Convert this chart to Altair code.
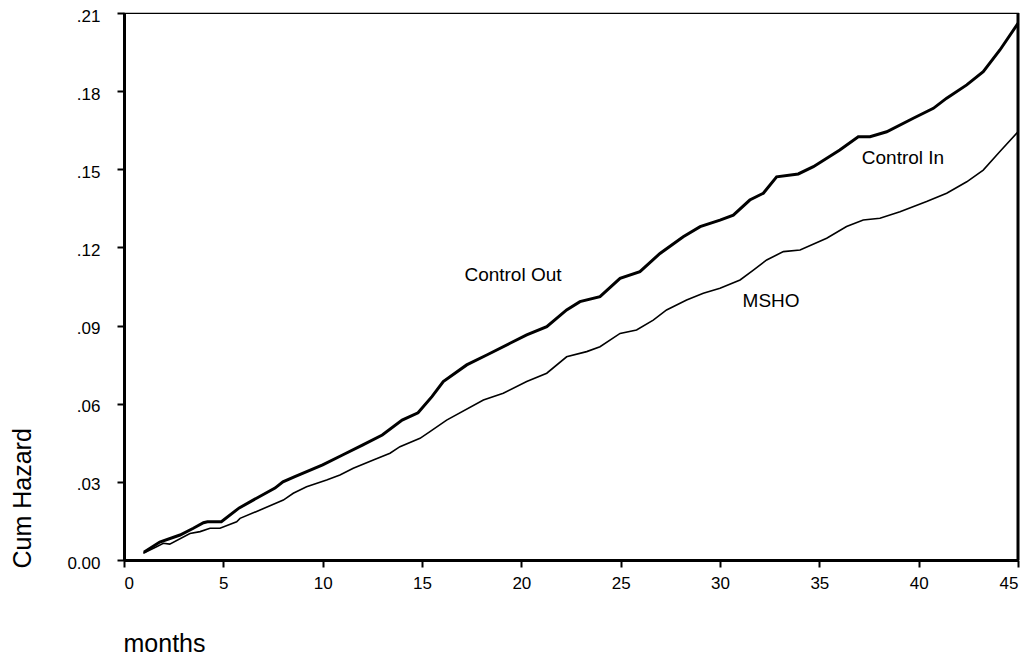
import altair as alt
import pandas as pd

# Control (thick line): months and cumulative hazard
control_month = [1.0, 1.8, 2.82, 3.49, 4.0, 4.2, 4.9, 5.8, 6.5, 7.6, 8.0, 8.6, 10.0, 11.0, 12.0, 13.0, 14.0,
                 14.8, 15.5, 16.07, 17.25, 18.26, 19.43, 20.27, 21.28, 22.28, 22.95, 23.96, 24.97, 25.97,
                 26.98, 28.15, 29.0, 30.0, 30.67, 31.5, 32.18, 32.85, 33.94, 34.7, 36.03, 36.96, 37.55,
                 38.39, 39.73, 40.74, 41.41, 42.42, 43.25, 44.09, 45.0]
control_haz = [0.003, 0.0069, 0.0096, 0.0122, 0.0143, 0.0147, 0.0147, 0.020, 0.023, 0.0276, 0.030, 0.032,
               0.0365, 0.0403, 0.0441, 0.048, 0.0537, 0.0565, 0.0627, 0.0685, 0.0749, 0.0787, 0.0832,
               0.0864, 0.0896, 0.096, 0.0992, 0.1011, 0.1081, 0.1107, 0.1177, 0.1241, 0.128, 0.1305,
               0.1324, 0.1382, 0.1408, 0.1471, 0.1482, 0.151, 0.1574, 0.1625, 0.1625, 0.1644, 0.1696,
               0.1734, 0.1773, 0.1824, 0.1875, 0.1958, 0.206]

# MSHO (thin line)
msho_month = [0.97, 1.64, 1.98, 2.3, 3.32, 3.83, 4.33, 4.83, 5.67, 5.84, 6.85, 8.02, 8.52, 9.19, 10.2,
              10.87, 11.54, 12.55, 13.39, 13.89, 14.9, 15.4, 16.24, 18.09, 19.09, 20.27, 21.28, 22.28,
              23.29, 23.96, 24.97, 25.8, 26.64, 27.31, 28.32, 29.16, 30.0, 31.01, 31.68, 32.35, 33.19,
              34.03, 35.37, 36.37, 37.21, 38.05, 39.06, 40.4, 41.41, 42.42, 43.25, 44.09, 45.0]
msho_haz = [0.0026, 0.0051, 0.0064, 0.0061, 0.0102, 0.0109, 0.0122, 0.0122, 0.0147, 0.016, 0.0192,
            0.023, 0.0256, 0.0281, 0.0307, 0.0326, 0.0352, 0.0384, 0.041, 0.0435, 0.0467, 0.0493,
            0.0537, 0.0614, 0.064, 0.0685, 0.0717, 0.078, 0.080, 0.0819, 0.087, 0.0883, 0.0921, 0.096,
            0.0998, 0.1024, 0.1043, 0.1075, 0.1113, 0.1152, 0.1184, 0.1190, 0.1235, 0.128, 0.1305,
            0.1312, 0.1337, 0.1376, 0.1408, 0.1452, 0.1497, 0.1568, 0.1644]

label_text = ["Control Out", "MSHO", "Control In"]
label_x = [19.58, 32.57, 39.21]
label_y = [0.1094, 0.0994, 0.1545]

x_ticks = [0, 5, 10, 15, 20, 25, 30, 35, 40, 45]
y_ticks = [0.0, 0.03, 0.06, 0.09, 0.12, 0.15, 0.18, 0.21]

FONT = "Liberation Sans"

df = pd.concat([
    pd.DataFrame({"month": control_month, "haz": control_haz, "series": "Control"}),
    pd.DataFrame({"month": msho_month, "haz": msho_haz, "series": "MSHO"}),
])
labels = pd.DataFrame({"text": label_text, "month": label_x, "haz": label_y})
edge = pd.DataFrame({"month": [45.0, 45.0], "haz": [0.0, 0.21]})

xscale = alt.Scale(domain=[0, 45], nice=False, zero=False)
yscale = alt.Scale(domain=[0, 0.21], nice=False, zero=False)

axis_style = dict(
    domain=True, domainColor="black", domainWidth=3, domainOpacity=1,
    ticks=True, tickColor="black", tickWidth=2, tickSize=7, tickOpacity=1,
    labelColor="black", titleColor="black", labelFont=FONT, titleFont=FONT,
    grid=False,
)

x_enc = alt.X("month:Q", scale=xscale, axis=alt.Axis(
    values=x_ticks, title="months", titleAnchor="start", titleAlign="left",
    titleX=-1, titleY=91, titleBaseline="alphabetic",
    titleFontSize=25, titleFontWeight="normal", labelFontSize=17,
    labelPadding=8, **axis_style))
y_enc = alt.Y("haz:Q", scale=yscale, axis=alt.Axis(
    values=y_ticks, title="Cum Hazard", titleAngle=-90, titleAlign="left",
    titleAnchor="start", titleX=-94, titleY=555, titleBaseline="alphabetic",
    titleFontSize=25, titleFontWeight="normal", labelFontSize=17, labelPadding=17,
    labelOffset=3,
    labelExpr="datum.value == 0 ? '0.00' : replace(format(datum.value, '.2f'), '0.', '.')",
    **axis_style))

lines = alt.Chart(df).mark_line(color="black").encode(
    x=x_enc, y=y_enc,
    detail="series:N",
    strokeWidth=alt.StrokeWidth("series:N", scale=alt.Scale(domain=["Control", "MSHO"], range=[3, 1.6]), legend=None),
)

# right edge of the frame as a vertical line through the scales
right_edge = alt.Chart(edge).mark_line(color="black", strokeWidth=3, clip=False).encode(
    x=alt.X("month:Q", scale=xscale), y=alt.Y("haz:Q", scale=yscale))

text = alt.Chart(labels).mark_text(fontSize=19, font=FONT, color="black", align="center", baseline="middle").encode(
    x=alt.X("month:Q", scale=xscale), y=alt.Y("haz:Q", scale=yscale), text="text:N")

chart = alt.layer(lines, right_edge, text).properties(
    width=894, height=547,
    autosize=alt.AutoSizeParams(type="none"),
    padding={"left": 116, "top": 5, "right": 6, "bottom": 99},
).configure(background="white").configure_view(stroke="black", strokeWidth=1.2)

chart.save("out.html", embed_options={"renderer": "svg", "actions": False})
